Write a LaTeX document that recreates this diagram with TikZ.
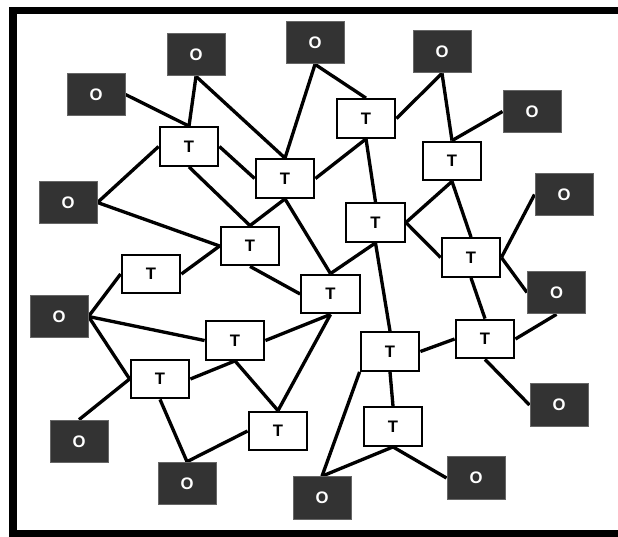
\documentclass[tikz,border=0pt]{standalone}
\usepackage{fontspec}
\setmainfont{Liberation Sans}
\usetikzlibrary{backgrounds}
\tikzset{
  obox/.style={draw=black!60,fill=black!80,text=white,line width=0.75pt,
    minimum width=43.5pt,minimum height=32pt,inner sep=0pt,
    font=\fontsize{12.5}{14}\selectfont\bfseries},
  tbox/.style={draw=black,fill=white,line width=1.6pt,
    minimum width=44pt,minimum height=29pt,inner sep=0pt,
    font=\fontsize{12.5}{14}\selectfont\bfseries},
  link/.style={line width=2.5pt},
  outerframe/.style={line width=5.5pt},
}
\begin{document}
\begin{tikzpicture}[x=0.75pt,y=-0.75pt]
  \useasboundingbox (0,0) rectangle (618,536);
  \draw[outerframe] (13,10.5) rectangle (622,534);
  % outer (dark) nodes
  \foreach \n/\x/\y in {o1/196/54.5,o2/96/94.5,o3/315/42.5,o4/442/51.5,o5/532/111.5,
    o6/68/202.5,o7/564/194.5,o8/59/316.5,o9/556.5/292.5,o10/559/405,
    o11/79/441.5,o12/187/483.5,o13/322/498,o14/476/478}
    {\node[obox] (\n) at (\x,\y) {O};}
  % inner (white) nodes
  \foreach \n/\x/\y in {t1/189/146.5,t2/285/178.5,t3/250/246,t4/366/118.5,t5/452/161,
    t6/375.5/222.5,t7/471/257.5,t8/151/274,t9/330.5/294,t10/235/340.5,
    t11/160/379,t12/278/431,t13/390/351.5,t14/485/339,t15/393/426.5}
    {\node[tbox] (\n) at (\x,\y) {T};}
  \begin{scope}[on background layer]
    \foreach \a/\b in {o2.east/t1.north,o1.south/t1.north,o1.south/t2.north,
      o3.south/t2.north,t1.east/t2.west,t1.west/o6.east,t1.south/t3.north,
      t2.south/t3.north,t2.south/t9.north,o6.east/t3.west,t2.east/t4.south,
      t3.west/t8.east,o3.south/t4.north,o4.south/t4.east,o4.south/t5.north,
      o5.west/t5.north,t4.south/t6.north,t5.south/t6.east,t5.south/t7.north,
      t6.east/t7.west,t6.south/t9.north,t6.south/t13.north,o7.west/t7.east,
      t7.east/o9.west,t3.south/t9.west,o8.east/t8.west,o8.east/t10.west,
      o8.east/t11.west,t10.east/t9.south,t10.south/t11.east,t10.south/t12.north,
      t9.south/t12.north,o11.north/t11.west,t11.south/o12.north,t12.west/o12.north,
      t7.south/t14.north,o9.south/t14.east,t14.west/t13.east,t14.south/o10.west,
      t13.south/t15.north,t13.south west/o13.north,t15.south/o13.north,
      t15.south/o14.west}
      {\draw[link] (\a) -- (\b);}
  \end{scope}
\end{tikzpicture}
\end{document}
